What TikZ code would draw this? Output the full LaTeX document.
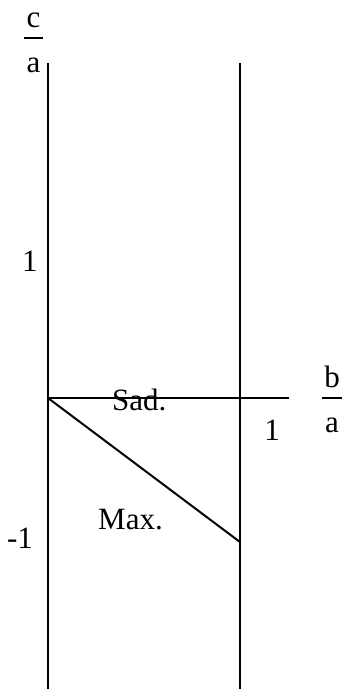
\documentclass[tikz,border=0pt]{standalone}
\usepackage{fontspec}
\setmainfont{Liberation Serif}
\tikzset{
  ax/.style={line width=2pt, black},
  lbl/.style={inner sep=0pt, anchor=base, font=\fontsize{31}{36}\selectfont},
  lblw/.style={inner sep=0pt, anchor=base west, font=\fontsize{31}{36}\selectfont},
  bar/.style={line width=1.5pt, black}
}
\begin{document}
\begin{tikzpicture}[x=1pt,y=-1pt]
\useasboundingbox (0,0) rectangle (345,689);
% coordinates
\coordinate (ltop) at (48,63);
\coordinate (lbot) at (48,689);
\coordinate (rtop) at (240,63);
\coordinate (rbot) at (240,689);
\coordinate (orig) at (48,398);
\coordinate (hend) at (289,398);
\coordinate (dend) at (240,542);
% lines
\draw[ax] (ltop) -- (lbot);
\draw[ax] (rtop) -- (rbot);
\draw[ax] (orig) -- (hend);
\draw[ax] (orig) -- (dend);
% c/a
\node[lbl] (cc) at (33.5,27) {c};
\node[lbl] (ca) at (33.5,72) {a};
\coordinate (cbl) at (24,38);
\coordinate (cbr) at (43,38);
\draw[bar] (cbl) -- (cbr);
% b/a
\node[lbl] (bb) at (332,387) {b};
\node[lbl] (ba) at (332,432) {a};
\coordinate (bbl) at (322,398);
\coordinate (bbr) at (342,398);
\draw[bar] (bbl) -- (bbr);
% tick labels
\node[lbl] (one) at (30,271) {1};
\node[lbl] (mone) at (20,548) {-1};
\node[lbl] (onex) at (272,440) {1};
% region labels
\node[lblw] (sad) at (112,410) {Sad.};
\node[lblw] (max) at (98,529) {Max.};
\end{tikzpicture}
\end{document}
